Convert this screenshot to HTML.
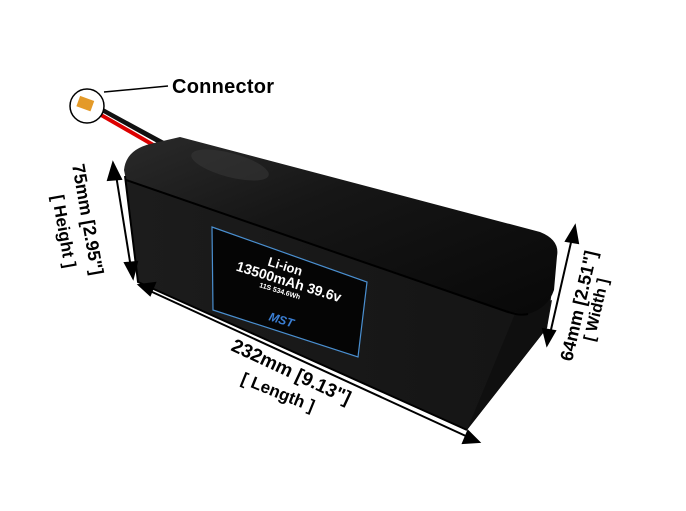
<!DOCTYPE html>
<html><head><style>body{margin:0;background:#fff}svg{display:block}</style></head><body>
<svg width="686" height="511" viewBox="0 0 686 511" xmlns="http://www.w3.org/2000/svg" font-family="Liberation Sans, sans-serif">
<defs>
<linearGradient id="top" x1="0" y1="0" x2="1" y2="1"><stop offset="0" stop-color="#2a2a2a"/><stop offset="0.4" stop-color="#161616"/><stop offset="1" stop-color="#080808"/></linearGradient>
<linearGradient id="front" x1="0" y1="0" x2="1" y2="0"><stop offset="0" stop-color="#1c1c1c"/><stop offset="1" stop-color="#141414"/></linearGradient>
</defs>
<path d="M98 108 L168 146" stroke="#111" stroke-width="5"/>
<path d="M96 112 L162 150" stroke="#d00" stroke-width="4"/>
<path d="M97 110 L165 148" stroke="#fff" stroke-width="1"/>
<path d="M125 176 L520 312 L552 300 L547 328 L467 430 L138 282 Z" fill="url(#front)"/>
<path d="M515 314 L552 290 L547 328 L467 430 Z" fill="#0f0f0f"/>
<path d="M124 170 Q126 150 150 144 L180 137 L540 232 Q560 240 557 256 L554 290 Q548 308 528 314 L508 312 L126 180 Z" fill="url(#top)"/>
<path d="M126 180 L508 312 Q520 316 528 314" stroke="#000" stroke-width="2" fill="none"/>
<ellipse cx="230" cy="165" rx="40" ry="12" fill="#3a3a3a" opacity="0.5" transform="rotate(15 230 165)"/>
<path d="M125 176 L138 282 L467 430" stroke="#000" stroke-width="2" fill="none"/>
<path d="M212 227 L367 282 L358 357 L213 310 Z" fill="#050505" stroke="#4a8fd0" stroke-width="1.2"/>
<g transform="translate(290 285) rotate(17)" fill="#fff" font-weight="bold" text-anchor="middle">
<text x="-10" y="-12" font-size="13">Li-ion</text>
<text x="-2" y="2" font-size="14">13500mAh 39.6v</text>
<text x="-8" y="11" font-size="7">11S 534.6Wh</text>
<text x="2" y="40" font-size="12" fill="#3b7fd4" font-style="italic">MST</text>
</g>
<circle cx="87" cy="106" r="17" fill="#fff" stroke="#000" stroke-width="1.5"/>
<rect x="78" y="98" width="15" height="11" fill="#e49a28" transform="rotate(20 85 103)"/>
<line x1="104" y1="92" x2="168" y2="86" stroke="#000" stroke-width="1.5"/>
<text x="172" y="93" font-size="20" font-weight="bold" textLength="102">Connector</text>
<g stroke="#000" stroke-width="2" fill="#000">
<line x1="116" y1="175" x2="131" y2="268"/>
<path d="M113 163 L108 180 L121 179 Z"/><path d="M133 278 L125 263 L137 262 Z"/>
<line x1="150" y1="291" x2="468" y2="437"/>
<path d="M139 285 L155 283 L150 295 Z"/><path d="M479 442 L463 443 L468 431 Z"/>
<line x1="572" y1="238" x2="550" y2="334"/>
<path d="M575 226 L566 241 L578 243 Z"/><path d="M547 345 L543 329 L555 331 Z"/>
</g>
<g font-weight="bold" fill="#000">
<text transform="translate(72 165) rotate(80)" font-size="18">75mm [2.95"]</text>
<text transform="translate(52 196) rotate(80)" font-size="17">[ Height ]</text>
<text transform="translate(230 350) rotate(25)" font-size="19">232mm [9.13"]</text>
<text transform="translate(240 383) rotate(22)" font-size="17">[ Length ]</text>
<text transform="translate(572 362) rotate(-77)" font-size="18">64mm [2.51"]</text>
<text transform="translate(594 342) rotate(-77)" font-size="16">[ Width ]</text>
</g>
</svg>
</body></html>
